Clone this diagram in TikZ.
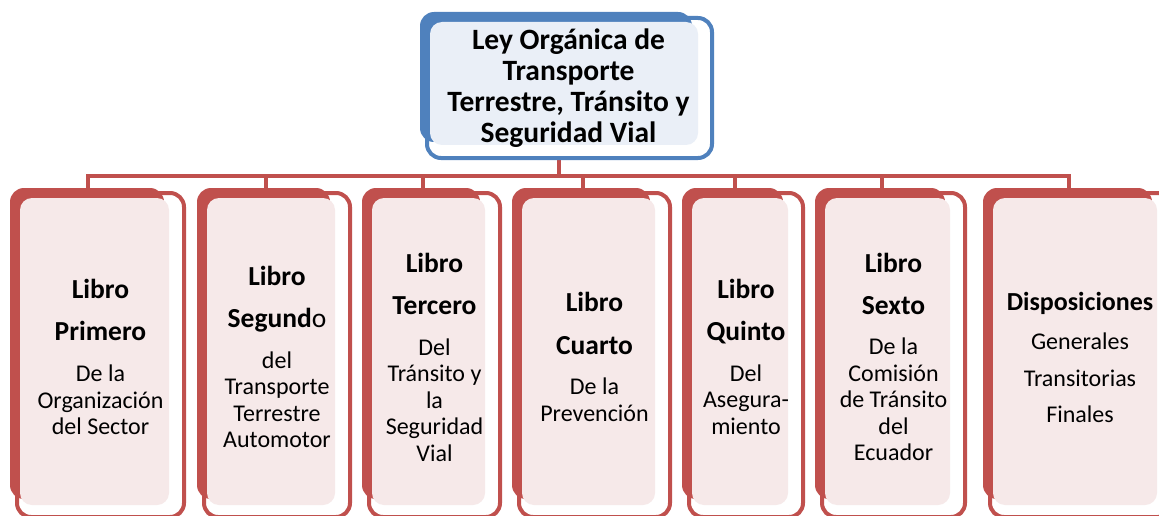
\documentclass[tikz,border=0pt]{standalone}
\usepackage{fontspec}
\setmainfont{Carlito}
\usetikzlibrary{calc,positioning}
\definecolor{libred}{RGB}{192,80,77}
\definecolor{libpink}{RGB}{246,233,233}
\definecolor{leyblue}{RGB}{79,129,189}
\definecolor{leylight}{RGB}{234,239,247}
\newcommand{\hd}[1]{{\fontsize{27.5}{26.5}\selectfont\bfseries #1}}

\begin{document}
\begin{tikzpicture}[x=1pt, y=-1pt,
    bookframe/.style={draw=libred, line width=4pt, fill=white, rounded corners=14pt,
                      outer sep=0pt, inner sep=0pt, minimum height=324pt},
    slab/.style={fill=libred, rounded corners=14pt},
    panel/.style={fill=libpink, rounded corners=12pt},
    booktext/.style={align=center, font=\fontsize{24}{26.5}\selectfont, inner sep=0pt},
    conn/.style={draw=libred, line width=4.5pt}]
    \useasboundingbox (0,0) rectangle (1159,516);
    \clip (0,0) rectangle (1159,516);
    % puntos de enlace (bus y topes de cada libro)
    \coordinate (leybot) at (559,158);
    \coordinate (bus) at (559,176);
    \coordinate (top1) at (88,188);
    \coordinate (top2) at (266,188);
    \coordinate (top3) at (423,188);
    \coordinate (top4) at (583,188);
    \coordinate (top5) at (735,188);
    \coordinate (top6) at (882,188);
    \coordinate (top7) at (1069,188);
    % conectores
    \draw[conn] (leybot) -- (bus);
    \draw[conn] (top1) -- (top1 |- bus) -- (top7 |- bus) -- (top7);
    \draw[conn] (top2 |- bus) -- (top2);
    \draw[conn] (top3 |- bus) -- (top3);
    \draw[conn] (top4 |- bus) -- (top4);
    \draw[conn] (top5 |- bus) -- (top5);
    \draw[conn] (top6 |- bus) -- (top6);
    % caja superior: la ley
    \node[bookframe, draw=leyblue, minimum width=285pt, minimum height=140pt] (f0) at (569.5,88) {};
    \fill[leyblue, rounded corners=14pt] ($(f0.north west)+(-7,-6)$) rectangle ($(f0.south east)+(-20,-16)$);
    \fill[leylight, rounded corners=12pt] ($(f0.north west)+(3,4)$) rectangle ($(f0.south east)+(-14,-13)$);
    \node[booktext, font=\fontsize{29.5}{31}\selectfont\bfseries] (ley) at ($(f0.center)+(-1,0)$)
        {Ley Orgánica de\\Transporte\\Terrestre, Tránsito y\\Seguridad Vial};
    % marcos de los libros
    \node[bookframe, minimum width=167pt] (f1) at (100.5,355) {};
    \node[bookframe, minimum width=146pt] (f2) at (277,355) {};
    \node[bookframe, minimum width=131pt] (f3) at (434.5,355) {};
    \node[bookframe, minimum width=151pt] (f4) at (594.5,355) {};
    \node[bookframe, minimum width=114pt] (f5) at (746,355) {};
    \node[bookframe, minimum width=143pt] (f6) at (893.5,355) {};
    \node[bookframe, minimum width=182pt] (f7) at (1081,355) {};
    % lomo rojo y fondo rosado
    \fill[slab] ($(f1.north west)+(-7,-5)$) rectangle ($(f1.south east)+(-20,-18)$);
    \fill[panel] ($(f1.north west)+(3,5)$) rectangle ($(f1.south east)+(-15,-12)$);
    \fill[slab] ($(f2.north west)+(-7,-5)$) rectangle ($(f2.south east)+(-20,-18)$);
    \fill[panel] ($(f2.north west)+(3,5)$) rectangle ($(f2.south east)+(-15,-12)$);
    \fill[slab] ($(f3.north west)+(-7,-5)$) rectangle ($(f3.south east)+(-20,-18)$);
    \fill[panel] ($(f3.north west)+(3,5)$) rectangle ($(f3.south east)+(-15,-12)$);
    \fill[slab] ($(f4.north west)+(-7,-5)$) rectangle ($(f4.south east)+(-20,-18)$);
    \fill[panel] ($(f4.north west)+(3,5)$) rectangle ($(f4.south east)+(-15,-12)$);
    \fill[slab] ($(f5.north west)+(-7,-5)$) rectangle ($(f5.south east)+(-20,-18)$);
    \fill[panel] ($(f5.north west)+(3,5)$) rectangle ($(f5.south east)+(-15,-12)$);
    \fill[slab] ($(f6.north west)+(-7,-5)$) rectangle ($(f6.south east)+(-20,-18)$);
    \fill[panel] ($(f6.north west)+(3,5)$) rectangle ($(f6.south east)+(-15,-12)$);
    \fill[slab] ($(f7.north west)+(-7,-5)$) rectangle ($(f7.south east)+(-20,-18)$);
    \fill[panel] ($(f7.north west)+(3,5)$) rectangle ($(f7.south east)+(-15,-12)$);
    % textos de los libros
    \node[booktext] (b1) at ($(f1.center)+(0,2)$)
        {\hd{Libro}\\[15.5pt]\hd{Primero}\\[14.5pt]De la\\Organización\\del Sector};
    \node[booktext] (b2) at ($(f2.center)+(0,2)$)
        {\hd{Libro}\\[15.5pt]\hd{Segund}{\fontsize{27.5}{26.5}\selectfont o}\\[14.5pt]del\\Transporte\\Terrestre\\Automotor};
    \node[booktext] (b3) at ($(f3.center)+(0,2)$)
        {\hd{Libro}\\[15.5pt]\hd{Tercero}\\[14.5pt]Del\\Tránsito y\\la\\Seguridad\\Vial};
    \node[booktext] (b4) at ($(f4.center)+(0,2)$)
        {\hd{Libro}\\[16pt]\hd{Cuarto}\\[14pt]De la\\Prevención};
    \node[booktext] (b5) at ($(f5.center)+(0,2)$)
        {\hd{Libro}\\[15.5pt]\hd{Quinto}\\[14pt]Del\\Asegura-\\miento};
    \node[booktext] (b6) at ($(f6.center)+(0,2)$)
        {\hd{Libro}\\[15.5pt]\hd{Sexto}\\[14pt]De la\\Comisión\\de Tránsito\\del\\Ecuador};
    \node[booktext] (b7) at ($(f7.center)+(-1,2)$)
        {{\fontsize{26}{26.5}\selectfont\bfseries Disposiciones}\\[12.5pt]Generales\\[10.5pt]Transitorias\\[9.5pt]Finales};
\end{tikzpicture}
\end{document}
